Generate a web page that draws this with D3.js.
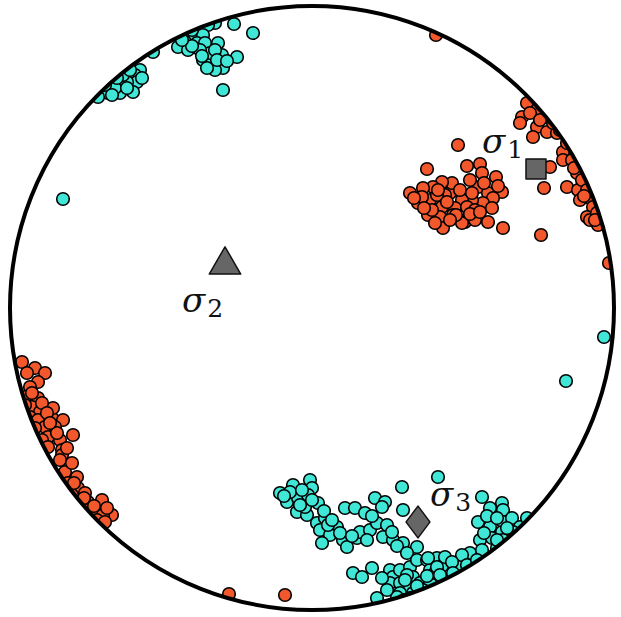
<!DOCTYPE html>
<html>
<head>
<meta charset="utf-8">
<script src="https://cdn.jsdelivr.net/npm/d3@7"></script>
<style>
  html, body { margin: 0; padding: 0; background: #fff; }
  svg { display: block; }
</style>
</head>
<body>
<svg id="net" width="621" height="617"></svg>
<script>
// projected positions on the net, units of the primitive radius (302)
var orangePts = [
  [215,205],[225,198],[235,196],[230,203],[210,191],[208,185],[225,181],[235,176],[245,175],[221,171],[241,185],[248,178],
  [218,195],[240,190],[228,188],
  [251,156],[251,148],[260,148],[255,121],[266,118],[265,135],[270,128],[275,118],[278,110],[268,108],[281,101],[275,91],
  [286,83],[278,88],[285,95],[238,141],[232,120],[229,73],[255,165],[262,140],[272,112],[283,88],
  [146,163],[115,139],[155,142],[168,144],[170,135],[184,131],[190,116],[166,121],[176,115],[181,110],[171,105],[160,108],
  [150,108],[138,115],[140,125],[130,126],[121,121],[111,120],[98,115],[106,105],[118,108],[130,101],[143,100],[155,101],
  [116,93],[128,91],[141,93],[153,86],[163,88],[176,86],[163,98],[131,80],[150,85],[191,80],[123,85],[110,111],
  [133,113],[148,118],[158,128],[125,113],[144,93],
  [102,110],[120,98],[135,106],[160,115],[172,125],[186,122],[138,88],[158,94],[168,96],[126,118],[112,100],[180,100],
  [-290,-54],[-277,-60],[-267,-65],[-274,-74],[-282,-79],[-287,-89],[-274,-90],[-280,-99],[-287,-97],[-272,-104],
  [-282,-109],[-274,-112],[-260,-110],[-249,-112],[-257,-119],[-267,-119],[-277,-120],[-264,-129],[-252,-132],[-239,-127],
  [-270,-132],[-250,-142],[-250,-147],[-252,-152],[-247,-164],[-235,-169],[-244,-175],[-234,-180],[-227,-185],[-240,-187],
  [-224,-194],[-210,-192],[-235,-195],[-219,-204],[-200,-207],[-209,-207],[-227,-202],[-215,-212],[-207,-214],[-230,-209],
  [-264,-139],[-259,-100],
  [-285,-65],[-280,-85],[-270,-95],[-265,-105],[-255,-125],[-245,-140],[-240,-155],[-238,-175],[-228,-190],[-218,-198],
  [-205,-200],[-262,-115],
  [124,273],[297,45],[-27,-287],[-83,-286]
];
var cyanPts = [
  [-78,284],[-59,275],[-97,285],[-104,283],[-129,273],[-117,271],[-109,273],[-127,266],[-134,261],[-124,258],[-115,265],
  [-107,265],[-94,265],[-109,248],[-100,246],[-90,253],[-75,251],[-89,240],[-97,238],[-105,240],[-89,218],[-159,256],
  [-102,255],[-120,278],[-112,258],[-97,258],[-120,262],[-110,252],[-95,248],[-130,268],[-85,247],
  [-172,238],[-177,233],[-175,226],[-185,226],[-194,225],[-202,226],[-210,218],[-204,215],[-192,215],[-179,216],[-189,233],
  [-182,238],[-214,211],[-197,220],[-207,223],[-195,230],[-185,220],[-200,213],[-170,230],
  [-249,109],[292,-29],[254,-73],
  [-32,-185],[-19,-177],[-2,-172],[0,-180],[-25,-194],[-14,-190],[-4,-187],[6,-195],[-15,-204],[-5,-207],[-7,-199],
  [5,-215],[13,-210],[25,-219],[8,-222],[18,-227],[10,-235],[31,-232],[33,-200],[43,-200],[53,-205],[63,-190],[73,-194],
  [70,-199],[35,-239],[45,-230],[48,-224],[58,-222],[65,-215],[75,-217],[71,-229],[81,-232],[91,-235],[55,-232],[90,-179],
  [91,-202],[105,-239],[126,-169],[-22,-184],[-12,-197],[16,-217],
  [-28,-188],[-10,-182],[0,-192],[12,-203],[20,-212],[28,-225],[40,-228],[60,-208],[80,-224],[85,-238],[95,-245],
  [41,-265],[50,-269],[60,-260],[65,-290],[78,-262],[81,-269],[88,-262],[98,-259],[105,-252],[115,-252],[118,-262],
  [101,-269],[78,-275],[88,-275],[98,-279],[108,-275],[118,-275],[88,-285],[101,-285],[111,-282],[125,-250],[123,-265],
  [95,-267],[85,-289],[98,-290],[93,-272],[106,-287],
  [70,-270],[75,-282],[92,-292],[105,-278],[115,-268],[130,-258],[145,-258],[158,-245],
  [170,-189],[190,-195],[191,-202],[178,-200],[166,-214],[178,-219],[191,-214],[200,-210],[208,-219],[215,-210],
  [190,-224],[201,-224],[168,-232],[180,-230],[191,-232],[185,-240],[198,-235],[205,-229],[170,-242],
  [175,-208],[185,-210],[195,-220],[172,-225],[185,-232],
  [116,-250],[133,-249],[150,-247],[140,-254],[125,-259],[155,-257],[165,-252],[128,-267],[141,-265]
];
var axisNames = ["1", "2", "3"];
var axisPos = [[224,139],[-87,46],[106,-214]];
var labelPos = [[170,155],[-130,-4],[118,-198]];

var svg = d3.select("#net");
var R = 302;
var x = d3.scaleLinear().domain([-R, R]).range([10, 614]);
var y = d3.scaleLinear().domain([-R, R]).range([610, 6]);

svg.append("clipPath").attr("id", "prim")
  .append("circle").attr("cx", x(0)).attr("cy", y(0)).attr("r", x(R) - x(0));

var pts = svg.append("g").attr("clip-path", "url(#prim)");

function dots(data, fill) {
  pts.append("g").selectAll("circle").data(data).enter()
    .append("circle")
    .attr("cx", function(d) { return x(d[0]); })
    .attr("cy", function(d) { return y(d[1]); })
    .attr("r", 6.3)
    .attr("fill", fill)
    .attr("stroke", "#000")
    .attr("stroke-width", 1.6);
}
dots(orangePts, "#f2582c");
dots(cyanPts, "#40e6d6");

// primitive circle
svg.append("circle")
  .attr("cx", x(0)).attr("cy", y(0)).attr("r", x(R) - x(0))
  .attr("fill", "none").attr("stroke", "#000").attr("stroke-width", 4);

// principal axes
var sym = [d3.symbolSquare, d3.symbolTriangle, d3.symbolSquare];
var sizes = [400, 430, 400];
axisPos.forEach(function(p, i) {
  var g = svg.append("path")
    .attr("d", d3.symbol().type(sym[i]).size(sizes[i])())
    .attr("fill", "#666")
    .attr("stroke", "#111")
    .attr("stroke-width", 1.5)
    .attr("stroke-linejoin", "round");
  var t = "translate(" + x(p[0]) + "," + y(p[1]) + ")";
  if (i == 2) t += " scale(0.85,1.13) rotate(45)";
  if (i == 1) t += " translate(0,3)";
  g.attr("transform", t);
});

var labels = svg.append("g").attr("font-family", "'DejaVu Serif', serif").attr("fill", "#111");
labelPos.forEach(function(p, i) {
  var t = labels.append("text").attr("x", x(p[0])).attr("y", y(p[1]));
  t.append("tspan").attr("font-size", 34).attr("font-style", "italic").text("σ");
  t.append("tspan").attr("font-size", 25).attr("dy", 5).attr("dx", 2).text(axisNames[i]);
});
</script>
</body>
</html>
